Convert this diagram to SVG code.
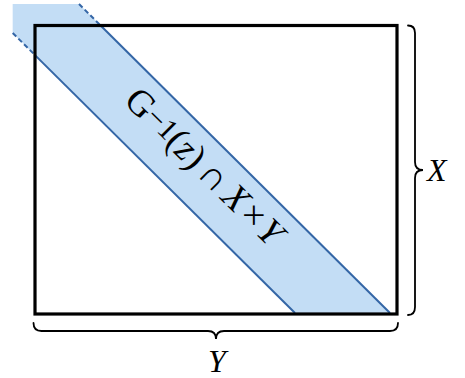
<svg xmlns="http://www.w3.org/2000/svg" width="465" height="378" viewBox="0 0 465 378">
  <style>
    .band-line { stroke: #3466a6; stroke-width: 2; fill: none; }
    .dash { stroke-dasharray: 5 3; }
    .brace { stroke: #000; stroke-width: 1.8; fill: none; stroke-linecap: round; }
    .lbl { font-family: "Liberation Serif", "DejaVu Serif", serif; fill: #000; }
  </style>
  <rect width="465" height="378" fill="#fff"/>
  <g id="band">
    <polygon points="12.7,4 79,4 390,313 295,313 12.7,33" fill="#c3ddf5"/>
    <line class="band-line dash" x1="12.7" y1="33" x2="35" y2="55.1"/>
    <line class="band-line" x1="35" y1="55.1" x2="295" y2="313"/>
    <line class="band-line dash" x1="79" y1="4" x2="100.6" y2="25.5"/>
    <line class="band-line" x1="100.6" y1="25.5" x2="390" y2="313"/>
    <text class="lbl" font-size="37" text-anchor="middle" transform="translate(196,175) rotate(44.8)">G<tspan font-size="30" dy="-3">−1</tspan><tspan dy="3">(<tspan font-style="italic">z</tspan>)<tspan dx="6">∩</tspan><tspan dx="6" font-style="italic">X</tspan><tspan dx="3">×</tspan><tspan dx="3" font-style="italic">Y</tspan></tspan></text>
  </g>
  <g id="rect">
    <rect x="35" y="25.5" width="362" height="288.5" fill="none" stroke="#000" stroke-width="3.2"/>
  </g>
  <g id="brace-x">
    <path class="brace" d="M408,25.5 Q415,25.5 415,33 L415,162 Q415,170 423,170 Q415,170 415,178 L415,307 Q415,315 408,315"/>
    <text class="lbl" font-size="32" font-style="italic" x="427" y="180.5">X</text>
  </g>
  <g id="brace-y">
    <path class="brace" d="M33.5,323 Q33.5,331 41.5,331 L208,331 Q216,331 216,339 Q216,331 224,331 L390,331 Q398,331 398,323"/>
    <text class="lbl" font-size="32" font-style="italic" x="217" y="371.5" text-anchor="middle">Y</text>
  </g>
</svg>
